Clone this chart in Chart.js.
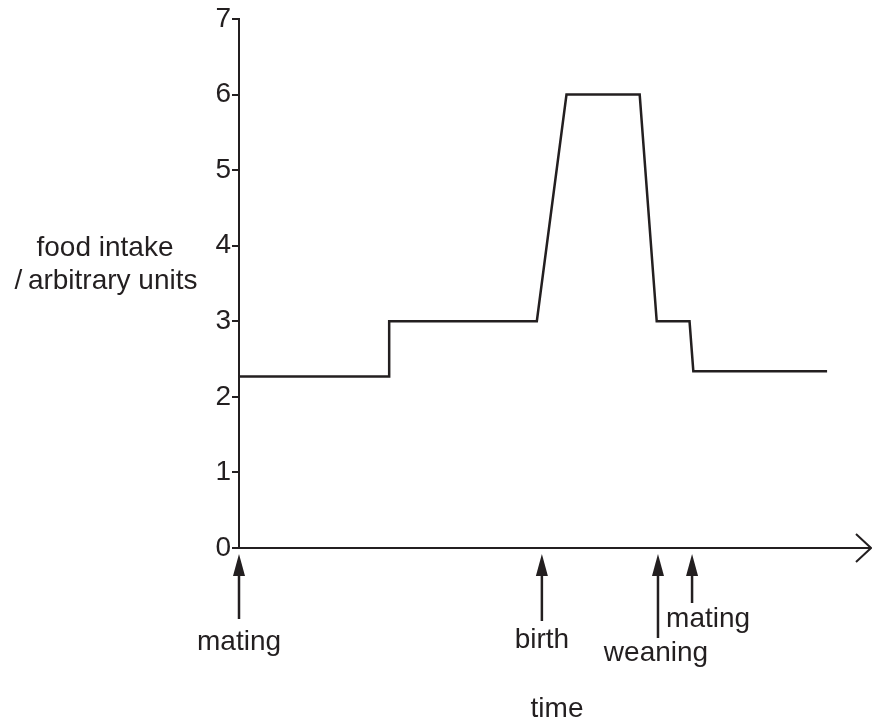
<!DOCTYPE html>
<html>
<head>
<meta charset="utf-8">
<script src="https://cdn.jsdelivr.net/npm/chart.js@4/dist/chart.umd.min.js"></script>
<style>
    html, body { margin: 0; padding: 0; background: #fff; }
    #wrap { width: 872px; height: 724px; position: relative; }
</style>
</head>
<body>
<div id="wrap"><canvas id="chart"></canvas></div>
<script>
// time is in arbitrary units, food intake in arbitrary units
const timePoints = [0, 23.8, 23.8, 47.2, 51.9, 63.5, 66.2, 71.4, 72.0, 93.2];
const intakeValues = [2.27, 2.27, 3, 3, 6, 6, 3, 3, 2.34, 2.34];
const yTicks = [0, 1, 2, 3, 4, 5, 6, 7];
const eventNames = ['mating', 'birth', 'weaning', 'mating'];
const eventTimes = [0, 48.0, 66.4, 71.8];

const ink = '#231f20';
const font = '"Liberation Sans", Arial, sans-serif';

// label placement for each event arrow: shaft end, text anchor, x offset, baseline
const eventLayout = [
    { shaftEnd: 619, align: 'center', dx: 0, baseline: 650 },
    { shaftEnd: 621, align: 'center', dx: 0, baseline: 648 },
    { shaftEnd: 638, align: 'center', dx: -2, baseline: 661 },
    { shaftEnd: 603, align: 'left', dx: -26, baseline: 627 },
];

const annotations = {
    id: 'annotations',
    afterDraw(chart) {
        const { ctx, chartArea, scales } = chart;
        const x = scales.x;
        const bottom = chartArea.bottom;
        ctx.save();
        ctx.strokeStyle = ink;
        ctx.fillStyle = ink;

        // open arrow head at the end of the time axis
        const right = x.right;
        ctx.lineWidth = 2;
        ctx.beginPath();
        ctx.moveTo(right - 14, bottom - 14);
        ctx.lineTo(right + 1, bottom);
        ctx.lineTo(right - 14, bottom + 14);
        ctx.stroke();

        // event arrows under the axis
        ctx.font = '28px ' + font;
        ctx.textBaseline = 'alphabetic';
        eventTimes.forEach((t, i) => {
            const px = x.getPixelForValue(t);
            const lay = eventLayout[i];
            const tip = bottom + 6;
            ctx.lineWidth = 2.5;
            ctx.beginPath();
            ctx.moveTo(px, tip + 18);
            ctx.lineTo(px, lay.shaftEnd);
            ctx.stroke();
            ctx.beginPath();
            ctx.moveTo(px, tip);
            ctx.lineTo(px - 6, tip + 22);
            ctx.lineTo(px + 6, tip + 22);
            ctx.closePath();
            ctx.fill();
            ctx.textAlign = lay.align;
            ctx.fillText(eventNames[i], px + lay.dx, lay.baseline);
        });

        // axis titles
        ctx.textAlign = 'center';
        ctx.fillText('time', 557, 717);
        ctx.fillText('food intake', 105, 256);
        ctx.fillText('/\u2009arbitrary units', 106, 289);
        ctx.restore();
    },
};

new Chart(document.getElementById('chart'), {
    type: 'line',
    data: {
        datasets: [{
            data: timePoints.map((t, i) => ({ x: t, y: intakeValues[i] })),
            borderColor: ink,
            borderWidth: 2.5,
            pointRadius: 0,
            tension: 0,
            fill: false,
        }],
    },
    options: {
        responsive: true,
        maintainAspectRatio: false,
        animation: false,
        layout: { padding: { top: 19, right: 2, bottom: 176, left: 0 } },
        plugins: {
            legend: { display: false },
            tooltip: { enabled: false },
        },
        scales: {
            x: {
                type: 'linear',
                min: 0,
                max: 100,
                grid: { display: false },
                ticks: { display: false },
                border: { display: true, color: ink, width: 2 },
                afterFit: (scale) => { scale.height = 0; },
            },
            y: {
                min: 0,
                max: 7,
                afterBuildTicks: (scale) => { scale.ticks = yTicks.map((v) => ({ value: v })); },
                grid: {
                    drawOnChartArea: false,
                    drawTicks: true,
                    tickLength: 7,
                    color: ink,
                    lineWidth: 2,
                },
                border: { display: true, color: ink, width: 2 },
                ticks: {
                    color: ink,
                    font: { family: font, size: 28 },
                    padding: 1,
                },
                afterFit: (scale) => { scale.width = 239; },
            },
        },
    },
    plugins: [annotations],
});
</script>
</body>
</html>
